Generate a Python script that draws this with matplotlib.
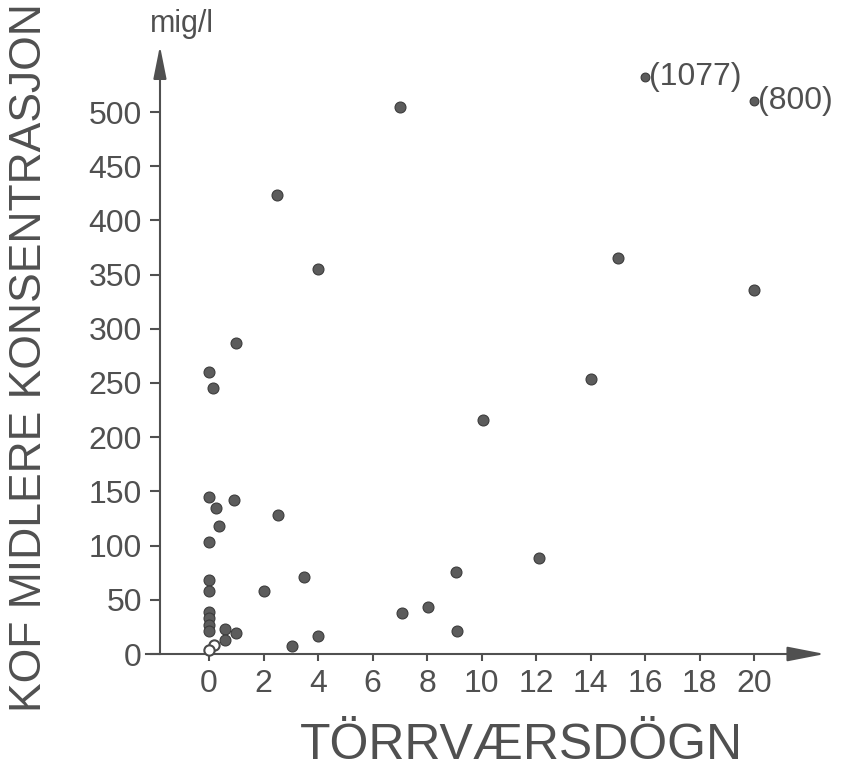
import matplotlib
matplotlib.use("Agg")
import matplotlib.pyplot as plt

# ---- data ----
x_days = [7, 2.5, 4, 1.0, 0, 0.15, 0, 0.9, 0.25, 2.55, 0.35, 0, 0, 0, 0, 0, 0, 0,
          0.6, 1.0, 0.6, 2, 3.5, 4, 3.05, 7.1, 8.05, 9.05, 9.1, 10.05, 12.1, 14, 15, 20]
y_conc = [505, 423, 355, 287, 260, 245, 145, 142, 135, 128, 118, 103, 68, 58, 39, 33, 27, 21,
          23, 19.5, 13, 58, 71, 17, 7, 38, 43, 76, 21, 216, 89, 254, 365, 336]
x_open = [0.2, 0.0]
y_open = [8, 4]
x_outlier = [16, 20]
val_outlier = [1077, 800]
y_outlier_plot = [532, 510]
y_ticks = list(range(0, 501, 50))
x_ticks = list(range(0, 21, 2))

C = '#505050'
W, H = 842, 772
fig = plt.figure(figsize=(W / 100, H / 100), dpi=100)
fig.patch.set_facecolor('white')

# axes placed so that data maps onto reference pixels
x0px, sx = 209, 27.25
y0px, sy = 654, 1.084
xlim = (-2.5, 23.0)
ylim = (-10, 570)
left = (x0px + xlim[0] * sx) / W
right = (x0px + xlim[1] * sx) / W
top = (y0px - ylim[1] * sy) / H
bottom = (y0px - ylim[0] * sy) / H
ax = fig.add_axes([left, 1 - bottom, right - left, bottom - top])
ax.set_xlim(*xlim)
ax.set_ylim(*ylim)
ax.set_facecolor('none')

for s in ['top', 'right']:
    ax.spines[s].set_visible(False)
ax.spines['left'].set_position(('data', -1.8))
ax.spines['bottom'].set_position(('data', 0))
ax.spines['left'].set_bounds(0, 540)
ax.spines['bottom'].set_bounds(-2.3, 21.5)
for s in ['left', 'bottom']:
    ax.spines[s].set_color(C)
    ax.spines[s].set_linewidth(1.5)

tick_font = ['Liberation Sans Narrow', 'Liberation Sans', 'DejaVu Sans']
ax.set_yticks(y_ticks)
ax.set_yticklabels([str(v) for v in y_ticks], family=tick_font, fontsize=23, color=C)
ax.set_xticks(x_ticks)
ax.set_xticklabels([str(v) for v in x_ticks], family=tick_font, fontsize=23, color=C)
ax.tick_params(axis='y', direction='out', length=7, width=1.5, color=C, pad=6)
ax.tick_params(axis='x', direction='out', length=5, width=1.5, color=C, pad=6)

# arrowheads
ax.annotate('', xy=(22.6, 0), xytext=(21.4, 0),
            arrowprops=dict(arrowstyle='-|>,head_length=2.3,head_width=0.45',
                            mutation_scale=10, color=C, lw=1.5, shrinkA=0, shrinkB=0))
ax.annotate('', xy=(-1.8, 561), xytext=(-1.8, 535),
            arrowprops=dict(arrowstyle='-|>,head_length=2.0,head_width=0.4',
                            mutation_scale=10, color=C, lw=1.5, shrinkA=0, shrinkB=0))

# points
ax.scatter(x_days, y_conc, s=62, facecolor='#5c5c5c', edgecolor='#3c3c3c', linewidth=0.8, zorder=3)
ax.scatter(x_open, y_open, s=55, facecolor='white', edgecolor='#4a4a4a', linewidth=1.5, zorder=3)
ax.scatter(x_outlier, y_outlier_plot, s=40, facecolor='#5c5c5c', edgecolor='#3c3c3c', linewidth=0.8, zorder=3)
for xv, yv, val in zip(x_outlier, y_outlier_plot, val_outlier):
    ax.annotate(f'({val})', (xv, yv), xytext=(3, 0), textcoords='offset points',
                ha='left', va='center', family=tick_font, fontsize=23, color=C)

# texts
fig.text(150 / W, 1 - 32 / H, 'mig/l', ha='left', va='baseline',
         family=tick_font, fontsize=22, color=C)
fig.text(30 / W, 1 - 358 / H, 'KOF MIDLERE KONSENTRASJON', rotation=90,
         ha='center', va='center', family=['Liberation Sans', 'DejaVu Sans'],
         fontsize=32, color=C)
fig.text(521 / W, 1 - 746 / H, 'TÖRRVÆRSDÖGN', ha='center', va='center',
         family=['Liberation Sans', 'DejaVu Sans'], fontsize=36, color=C)

fig.savefig('out.png', dpi=100, facecolor='white')
